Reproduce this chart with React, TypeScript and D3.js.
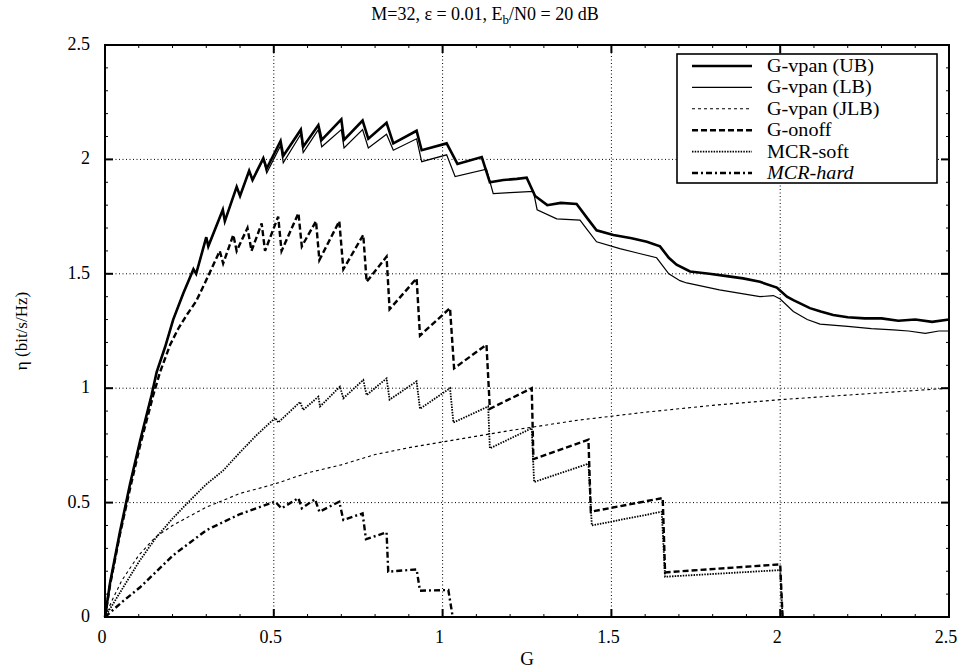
import React, { useEffect, useRef } from 'react';
import * as d3 from 'd3';

type Pt = [number, number];

// series: [G, eta]
const vpanUB: Pt[] = [
  [0, 0], [0.015, 0.15], [0.044, 0.37], [0.074, 0.58], [0.104, 0.77], [0.138, 0.97],
  [0.153, 1.07], [0.178, 1.18], [0.202, 1.3], [0.232, 1.415], [0.262, 1.52], [0.27, 1.5],
  [0.3, 1.66], [0.306, 1.62], [0.349, 1.78], [0.355, 1.73], [0.39, 1.88], [0.4, 1.84],
  [0.427, 1.95], [0.437, 1.91], [0.469, 2.005], [0.479, 1.96], [0.52, 2.08], [0.528, 2.015],
  [0.58, 2.13], [0.587, 2.055], [0.632, 2.15], [0.642, 2.085], [0.7, 2.175], [0.708, 2.085],
  [0.763, 2.17], [0.78, 2.09], [0.834, 2.16], [0.854, 2.07], [0.923, 2.125], [0.938, 2.04],
  [1.012, 2.07], [1.044, 1.98], [1.116, 2.01], [1.14, 1.9], [1.18, 1.91], [1.22, 1.915],
  [1.249, 1.92], [1.274, 1.84], [1.31, 1.8], [1.35, 1.81], [1.397, 1.805], [1.43, 1.74],
  [1.456, 1.69], [1.506, 1.67], [1.56, 1.655], [1.605, 1.64], [1.644, 1.62], [1.67, 1.57],
  [1.693, 1.54], [1.733, 1.51], [1.79, 1.5], [1.842, 1.49], [1.89, 1.48], [1.94, 1.465],
  [1.99, 1.44], [2.02, 1.4], [2.039, 1.385], [2.088, 1.35], [2.12, 1.335], [2.157, 1.32],
  [2.2, 1.31], [2.25, 1.305], [2.3, 1.305], [2.35, 1.295], [2.4, 1.3], [2.45, 1.29], [2.5, 1.3],
];

const vpanLB: Pt[] = [
  [0, 0], [0.015, 0.15], [0.044, 0.37], [0.074, 0.58], [0.104, 0.77], [0.138, 0.97],
  [0.153, 1.07], [0.178, 1.18], [0.202, 1.3], [0.232, 1.415], [0.262, 1.52], [0.27, 1.5],
  [0.3, 1.66], [0.306, 1.62], [0.349, 1.78], [0.355, 1.73], [0.39, 1.88], [0.4, 1.84],
  [0.427, 1.95], [0.437, 1.91], [0.469, 2.0], [0.479, 1.94], [0.52, 2.06], [0.528, 1.985],
  [0.58, 2.11], [0.587, 2.03], [0.632, 2.13], [0.642, 2.055], [0.7, 2.13], [0.708, 2.05],
  [0.763, 2.13], [0.78, 2.05], [0.834, 2.11], [0.854, 2.04], [0.923, 2.09], [0.938, 1.99],
  [1.012, 2.02], [1.037, 1.925], [1.13, 1.957], [1.15, 1.85], [1.2, 1.855], [1.269, 1.86],
  [1.28, 1.78], [1.338, 1.74], [1.407, 1.735], [1.43, 1.69], [1.456, 1.64], [1.525, 1.61],
  [1.58, 1.59], [1.634, 1.57], [1.67, 1.5], [1.703, 1.47], [1.723, 1.46], [1.82, 1.43],
  [1.9, 1.41], [1.94, 1.4], [1.98, 1.405], [2.0, 1.39], [2.039, 1.335], [2.08, 1.3],
  [2.118, 1.28], [2.2, 1.27], [2.27, 1.26], [2.335, 1.255], [2.38, 1.25], [2.43, 1.24],
  [2.47, 1.25], [2.5, 1.25],
];

const vpanJLB: Pt[] = [
  [0, 0], [0.02, 0.07], [0.05, 0.16], [0.1, 0.27], [0.15, 0.35], [0.2, 0.4], [0.3, 0.48],
  [0.4, 0.54], [0.5, 0.58], [0.6, 0.63], [0.7, 0.665], [0.8, 0.71], [0.9, 0.74], [1.0, 0.765],
  [1.2, 0.815], [1.4, 0.86], [1.6, 0.895], [1.8, 0.925], [2.0, 0.95], [2.2, 0.97], [2.5, 1.0],
];

const gOnoff: Pt[] = [
  [0, 0], [0.015, 0.14], [0.044, 0.36], [0.074, 0.56], [0.104, 0.75], [0.143, 0.97],
  [0.163, 1.07], [0.193, 1.19], [0.217, 1.26], [0.242, 1.32], [0.27, 1.38], [0.296, 1.46],
  [0.34, 1.6], [0.35, 1.545], [0.38, 1.67], [0.39, 1.6], [0.422, 1.7], [0.434, 1.6],
  [0.464, 1.72], [0.474, 1.6], [0.513, 1.75], [0.523, 1.6], [0.573, 1.765], [0.583, 1.62],
  [0.625, 1.73], [0.635, 1.56], [0.694, 1.73], [0.706, 1.52], [0.765, 1.67], [0.775, 1.465],
  [0.834, 1.575], [0.843, 1.345], [0.923, 1.48], [0.933, 1.23], [1.022, 1.35], [1.034, 1.087],
  [1.13, 1.19], [1.14, 0.91], [1.264, 1.0], [1.269, 0.69], [1.432, 0.775], [1.439, 0.46],
  [1.652, 0.52], [1.659, 0.195], [2.0, 0.23], [2.007, 0],
];

const mcrSoft: Pt[] = [
  [0, 0], [0.05, 0.12], [0.1, 0.24], [0.15, 0.345], [0.2, 0.43], [0.252, 0.51], [0.3, 0.58],
  [0.35, 0.64], [0.4, 0.72], [0.449, 0.795], [0.504, 0.87], [0.513, 0.85], [0.578, 0.94],
  [0.587, 0.905], [0.632, 0.963], [0.637, 0.92], [0.696, 1.007], [0.706, 0.956], [0.765, 1.036],
  [0.775, 0.97], [0.834, 1.043], [0.843, 0.95], [0.923, 1.03], [0.933, 0.91], [1.022, 1.0],
  [1.032, 0.85], [1.135, 0.92], [1.14, 0.737], [1.264, 0.825], [1.271, 0.59], [1.432, 0.67],
  [1.442, 0.4], [1.649, 0.46], [1.659, 0.176], [2.0, 0.205], [2.007, 0],
];

const mcrHard: Pt[] = [
  [0, 0], [0.05, 0.065], [0.104, 0.13], [0.202, 0.27], [0.301, 0.38], [0.4, 0.45],
  [0.504, 0.504], [0.523, 0.475], [0.573, 0.52], [0.583, 0.475], [0.622, 0.515], [0.635, 0.46],
  [0.694, 0.504], [0.706, 0.424], [0.763, 0.453], [0.773, 0.34], [0.834, 0.37], [0.839, 0.198],
  [0.923, 0.208], [0.933, 0.115], [1.017, 0.118], [1.03, 0],
];

const xTicks = [0, 0.5, 1, 1.5, 2, 2.5];
const yTicks = [0, 0.5, 1, 1.5, 2, 2.5];
const legendLabels = ['G-vpan (UB)', 'G-vpan (LB)', 'G-vpan (JLB)', 'G-onoff', 'MCR-soft', 'MCR-hard'];

const App = () => {
  const svgRef = useRef<SVGSVGElement>(null);

  useEffect(() => {
    const width = 966;
    const height = 671;
    const margin = { top: 45, right: 17, bottom: 54, left: 105 };
    const font = 'Liberation Serif';

    const svg = d3.select(svgRef.current);
    svg.selectAll('*').remove();
    svg.attr('width', width).attr('height', height);

    const x = d3.scaleLinear().domain([0, 2.5]).range([margin.left, width - margin.right]);
    const y = d3.scaleLinear().domain([0, 2.5]).range([height - margin.bottom, margin.top]);
    const [x0, x1] = x.range();
    const [y0, y1] = y.range();

    // grid
    const grid = svg.append('g').attr('stroke', '#000').attr('stroke-width', 1).attr('stroke-dasharray', '1,2.5');
    xTicks.slice(1, -1).forEach(t => {
      grid.append('line').attr('x1', x(t)).attr('x2', x(t)).attr('y1', y0).attr('y2', y1);
    });
    yTicks.slice(1, -1).forEach(t => {
      grid.append('line').attr('x1', x0).attr('x2', x1).attr('y1', y(t)).attr('y2', y(t));
    });

    // ticks (inside, all four sides)
    const ticks = svg.append('g').attr('stroke', '#000');
    d3.range(0, 2.5001, 0.1).forEach(t => {
      const major = Math.abs(t * 2 - Math.round(t * 2)) < 1e-6;
      const len = major ? 8 : 3;
      const w = major ? 2 : 1;
      ticks.append('line').attr('x1', x(t)).attr('x2', x(t)).attr('y1', y0).attr('y2', y0 - len).attr('stroke-width', w);
      ticks.append('line').attr('x1', x(t)).attr('x2', x(t)).attr('y1', y1).attr('y2', y1 + len).attr('stroke-width', w);
      ticks.append('line').attr('x1', x0).attr('x2', x0 + len).attr('y1', y(t)).attr('y2', y(t)).attr('stroke-width', w);
      ticks.append('line').attr('x1', x1).attr('x2', x1 - len).attr('y1', y(t)).attr('y2', y(t)).attr('stroke-width', w);
    });

    // tick labels
    svg.append('g').selectAll('text').data(xTicks).enter().append('text')
      .attr('x', d => x(d) - 3).attr('y', y0 + 26).attr('text-anchor', 'middle')
      .attr('font-family', font).attr('font-size', 18).text(d => String(d));
    svg.append('g').selectAll('text').data(yTicks).enter().append('text')
      .attr('x', x0 - 15).attr('y', d => y(d) + 5).attr('text-anchor', 'end')
      .attr('font-family', font).attr('font-size', 18).text(d => String(d));

    // series
    const line = d3.line<Pt>().x(d => x(d[0])).y(d => y(d[1]));
    const series = [
      { data: vpanUB, w: 2.6, dash: null },
      { data: vpanLB, w: 1.2, dash: null },
      { data: vpanJLB, w: 1.1, dash: '3,3' },
      { data: gOnoff, w: 2.4, dash: '6,3' },
      { data: mcrSoft, w: 1.8, dash: '1.5,1.2' },
      { data: mcrHard, w: 2.4, dash: '6,3,2,3' },
    ];
    const lines = svg.append('g').attr('fill', 'none').attr('stroke', '#000').attr('stroke-linejoin', 'miter');
    series.forEach(s => {
      const p = lines.append('path').datum(s.data).attr('d', line).attr('stroke-width', s.w);
      if (s.dash) p.attr('stroke-dasharray', s.dash);
    });

    // frame
    svg.append('rect').attr('x', x0).attr('y', y1).attr('width', x1 - x0).attr('height', y0 - y1)
      .attr('fill', 'none').attr('stroke', '#000').attr('stroke-width', 2);

    // legend
    const lg = svg.append('g');
    lg.append('rect').attr('x', 677).attr('y', 54).attr('width', 260).attr('height', 129)
      .attr('fill', '#fff').attr('stroke', '#000').attr('stroke-width', 1.6);
    series.forEach((s, i) => {
      const ry = 66 + i * 21.4;
      const l = lg.append('line').attr('x1', 692).attr('x2', 752).attr('y1', ry).attr('y2', ry)
        .attr('stroke', '#000').attr('stroke-width', s.w);
      if (s.dash) l.attr('stroke-dasharray', s.dash);
      lg.append('text').attr('transform', `translate(767, ${ry + 6}) scale(1.12, 1)`)
        .attr('font-family', font).attr('font-size', 18)
        .attr('font-style', i === 5 ? 'italic' : 'normal').text(legendLabels[i]);
    });

    // title
    const title = svg.append('text').attr('x', 485).attr('y', 20).attr('text-anchor', 'middle')
      .attr('font-family', font).attr('font-size', 18);
    title.append('tspan').text('M=32, ε = 0.01, E');
    title.append('tspan').attr('dy', 4).attr('font-size', 13).text('b');
    title.append('tspan').attr('dy', -4).text('/N0 = 20 dB');

    // axis labels
    svg.append('text').attr('x', 527).attr('y', 665).attr('text-anchor', 'middle')
      .attr('font-family', font).attr('font-size', 19).text('G');
    svg.append('text').attr('transform', `translate(27, ${(y0 + y1) / 2}) rotate(-90)`)
      .attr('text-anchor', 'middle').attr('font-family', font).attr('font-size', 17).text('η (bit/s/Hz)');
  }, []);

  return <svg ref={svgRef} style={{ position: 'absolute', left: 0, top: 0, background: '#fff' }} />;
};

export default App;
